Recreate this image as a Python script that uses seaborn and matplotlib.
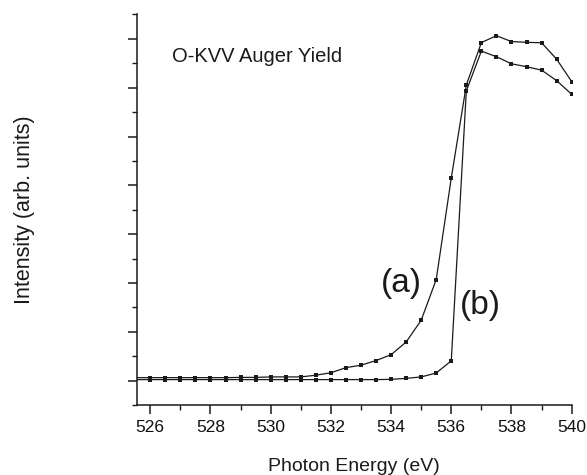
import numpy as np
import pandas as pd
import matplotlib
matplotlib.use("Agg")
import matplotlib.pyplot as plt
import seaborn as sns
from matplotlib.ticker import MultipleLocator

# photon energy grid (eV), 0.5 eV steps
energy = [525.5, 526, 526.5, 527, 527.5, 528, 528.5, 529, 529.5, 530, 530.5,
          531, 531.5, 532, 532.5, 533, 533.5, 534, 534.5, 535, 535.5,
          536, 536.5, 537, 537.5, 538, 538.5, 539, 539.5, 540]

# curve (a)
yield_a = [1.12, 1.12, 1.12, 1.12, 1.12, 1.12, 1.12, 1.13, 1.13, 1.15, 1.15,
           1.15, 1.22, 1.32, 1.53, 1.63, 1.82, 2.06, 2.58, 3.47, 5.14,
           9.30, 13.11, 14.85, 15.13, 14.89, 14.86, 14.84, 14.17, 13.25]

# curve (b)
yield_b = [1.04, 1.04, 1.04, 1.04, 1.04, 1.04, 1.04, 1.04, 1.04, 1.04, 1.04,
           1.04, 1.04, 1.04, 1.04, 1.04, 1.04, 1.05, 1.09, 1.15, 1.31,
           1.81, 12.87, 14.50, 14.27, 13.98, 13.86, 13.72, 13.29, 12.73]

df_a = pd.DataFrame({"energy": energy, "intensity": yield_a})
df_b = pd.DataFrame({"energy": energy, "intensity": yield_b})

sns.set_style("ticks")
plt.rcParams['font.family'] = ['Liberation Sans', 'DejaVu Sans']

fig = plt.figure(figsize=(5.87, 4.75), dpi=100)
ax = fig.add_axes([0.2329, 0.1474, 0.7410, 0.8221])

line_kw = dict(color="#1a1a1a", linewidth=0.9, marker="s", markersize=3.3,
               markeredgewidth=0, markerfacecolor="#1a1a1a")
sns.lineplot(data=df_a, x="energy", y="intensity", ax=ax, **line_kw)
sns.lineplot(data=df_b, x="energy", y="intensity", ax=ax, **line_kw)

ax.set_xlim(525.55, 540)
ax.set_ylim(0, 16)

ax.xaxis.set_major_locator(MultipleLocator(2))
ax.xaxis.set_minor_locator(MultipleLocator(1))
ax.set_yticks([1, 3, 5, 7, 9, 11, 13, 15])
ax.set_yticks(list(range(0, 17, 2)), minor=True)
ax.set_yticklabels([])

ax.tick_params(axis="both", which="major", direction="out", length=6.5, width=1.1,
               color="#1a1a1a", labelsize=12.5, labelcolor="#111111", pad=4)
ax.tick_params(axis="both", which="minor", direction="out", length=3.5, width=1.0,
               color="#1a1a1a")

for side in ["top", "right"]:
    ax.spines[side].set_visible(False)
for side in ["left", "bottom"]:
    ax.spines[side].set_linewidth(1.1)
    ax.spines[side].set_color("#1a1a1a")

ax.set_xlabel("Photon Energy (eV)", fontsize=14, color="#1a1a1a", labelpad=17)
ax.set_ylabel("Intensity (arb. units)", fontsize=15.5, color="#1a1a1a", labelpad=63)

ax.text(526.71, 14.26, "O-KVV Auger Yield", fontsize=14.5, color="#1a1a1a",
        ha="left", va="center")
ax.text(534.34, 4.96, "(a)", fontsize=24, color="#1a1a1a", ha="center", va="center")
ax.text(536.98, 4.08, "(b)", fontsize=24, color="#1a1a1a", ha="center", va="center")

fig.savefig("out.png", dpi=100)
